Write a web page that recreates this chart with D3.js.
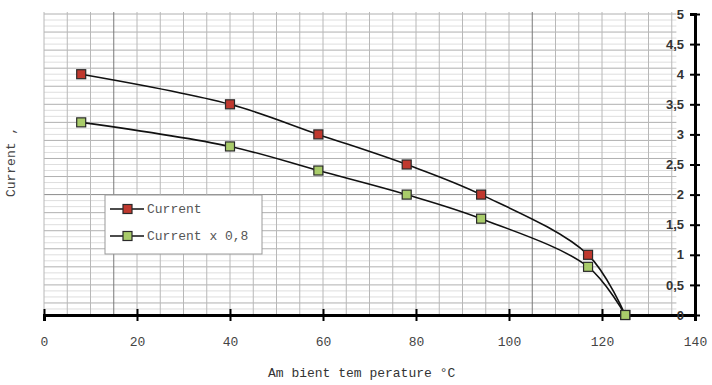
<!DOCTYPE html>
<html>
<head>
<meta charset="utf-8">
<script src="https://cdn.jsdelivr.net/npm/d3@7"></script>
<style>
  body { margin: 0; background: #fff; }
  svg { display: block; }
</style>
</head>
<body>
<div id="chart"></div>
<script>
// data
var temps = [8, 40, 59, 78, 94, 117, 125];
var current = [4, 3.5, 3, 2.5, 2, 1, 0];
var current08 = [3.2, 2.8, 2.4, 2, 1.6, 0.8, 0];
var seriesNames = ["Current", "Current x 0,8"];
var xTicks = [0, 20, 40, 60, 80, 100, 120, 140];
var yTicks = [0, 0.5, 1, 1.5, 2, 2.5, 3, 3.5, 4, 4.5, 5];

var width = 712, height = 385;

var svg = d3.select("#chart")
  .append("svg")
    .attr("width", width)
    .attr("height", height);

var x = d3.scaleLinear().domain([0, 140]).range([44, 695]);
var y = d3.scaleLinear().domain([0, 5]).range([315, 14]);

// graph paper grid
var grid = svg.append("g");
var hVals = d3.range(0, 51).map(function(i) { return i / 10; });
grid.selectAll("line.h")
  .data(hVals)
  .enter().append("line")
    .attr("x1", x(0)).attr("x2", x(136))
    .attr("y1", function(d) { return y(d); })
    .attr("y2", function(d) { return y(d); })
    .attr("stroke", function(d) {
      var k = Math.round(d * 10);
      if (k == 20) return "#8a8a8a";
      return ((k - 2) % 3 == 0) ? "#b0b0b0" : "#dedede";
    })
    .attr("stroke-width", 1);

var vVals = d3.range(0, 28).map(function(i) { return i * 5; });
grid.selectAll("line.v")
  .data(vVals)
  .enter().append("line")
    .attr("x1", function(d) { return x(d); })
    .attr("x2", function(d) { return x(d); })
    .attr("y1", 12).attr("y2", y(0))
    .attr("stroke", function(d) { return (d == 15 || d == 105) ? "#7a7a7a" : "#b8b8b8"; })
    .attr("stroke-width", 1);

// x axis
var xAxis = svg.append("g")
  .attr("transform", "translate(0," + y(0) + ")")
  .call(d3.axisBottom(x).tickValues(xTicks).tickSize(6).tickPadding(16));
xAxis.select(".domain").attr("stroke", "#000").attr("stroke-width", 3);
xAxis.selectAll(".tick line").attr("y1", -6).attr("stroke", "#000").attr("stroke-width", 2);
xAxis.selectAll(".tick text")
  .attr("font-family", "Liberation Mono, monospace")
  .attr("font-size", 13)
  .attr("fill", "#444");

// y axis on the right, labels inside
var yAxis = svg.append("g")
  .attr("transform", "translate(" + x(140) + ",0)")
  .call(d3.axisLeft(y).tickValues(yTicks).tickSize(5).tickPadding(6)
    .tickFormat(function(d) { return String(d).replace(".", ","); }));
yAxis.select(".domain").attr("stroke", "#000").attr("stroke-width", 3);
yAxis.selectAll(".tick line").attr("x1", 5).attr("stroke", "#000").attr("stroke-width", 2);
yAxis.selectAll(".tick text")
  .attr("font-family", "Liberation Sans, Arial, sans-serif")
  .attr("font-weight", "bold")
  .attr("font-size", 13)
  .attr("fill", "#333");

// curves
var line = d3.line()
  .x(function(d) { return x(d[0]); })
  .y(function(d) { return y(d[1]); })
  .curve(d3.curveCatmullRom.alpha(0.5));

var series = [
  { name: seriesNames[0], values: d3.zip(temps, current), fill: "#c0392f" },
  { name: seriesNames[1], values: d3.zip(temps, current08), fill: "#a9cc6a" }
];

series.forEach(function(s) {
  svg.append("path")
    .datum(s.values)
    .attr("fill", "none")
    .attr("stroke", "#111")
    .attr("stroke-width", 1.6)
    .attr("d", line);
});

series.forEach(function(s) {
  svg.append("g").selectAll("rect")
    .data(s.values)
    .enter().append("rect")
      .attr("x", function(d) { return x(d[0]) - 4.5; })
      .attr("y", function(d) { return y(d[1]) - 4.5; })
      .attr("width", 9).attr("height", 9)
      .attr("fill", s.fill)
      .attr("stroke", "#2a2a2a")
      .attr("stroke-width", 1.2);
});

// legend
var legend = svg.append("g").attr("transform", "translate(105,195)");
legend.append("rect")
  .attr("width", 157).attr("height", 59)
  .attr("fill", "#fff")
  .attr("stroke", "#9a9a9a");
series.forEach(function(s, i) {
  var ly = 14 + i * 27;
  legend.append("line")
    .attr("x1", 5).attr("x2", 39).attr("y1", ly).attr("y2", ly)
    .attr("stroke", "#111").attr("stroke-width", 1.6);
  legend.append("rect")
    .attr("x", 18).attr("y", ly - 4.5).attr("width", 9).attr("height", 9)
    .attr("fill", s.fill).attr("stroke", "#2a2a2a").attr("stroke-width", 1.2);
  legend.append("text")
    .attr("x", 42).attr("y", ly + 4)
    .attr("font-family", "Liberation Mono, monospace")
    .attr("font-size", 13)
    .attr("fill", "#555")
    .text(s.name);
});

// axis titles
svg.append("text")
  .attr("x", 268).attr("y", 377)
  .attr("font-family", "Liberation Mono, monospace")
  .attr("font-size", 13)
  .attr("fill", "#333")
  .text("Am bient tem perature \u00B0C");

svg.append("text")
  .attr("transform", "translate(15,162) rotate(-90)")
  .attr("text-anchor", "middle")
  .attr("font-family", "Liberation Mono, monospace")
  .attr("font-size", 13)
  .attr("fill", "#444")
  .text("Current ,");
</script>
</body>
</html>
